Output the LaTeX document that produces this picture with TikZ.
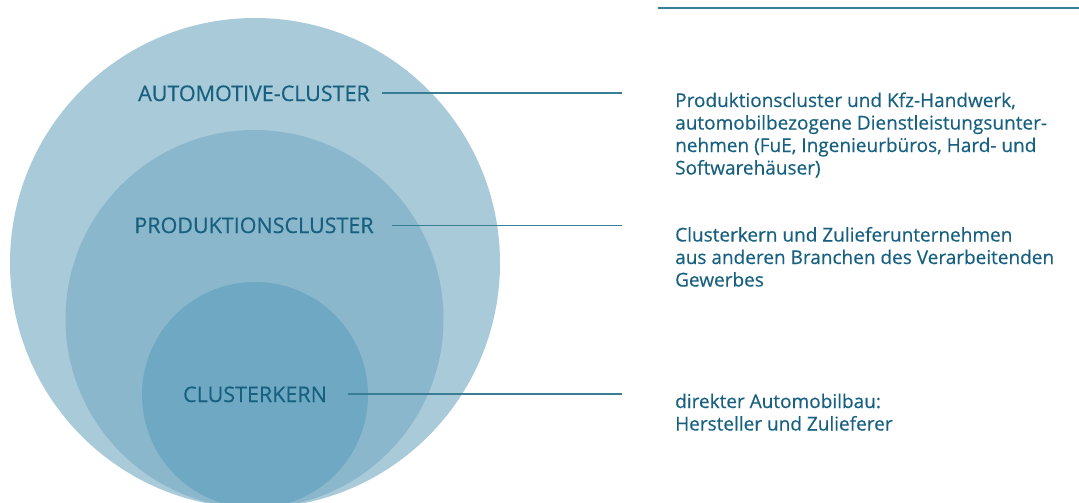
\documentclass[tikz,border=0pt]{standalone}
\usepackage{fontspec}
\setmainfont{Open Sans}
\newfontfamily\labfont[FakeBold=0.35]{Open Sans}
\definecolor{outerc}{HTML}{A8CAD9}
\definecolor{midc}{HTML}{8AB7CC}
\definecolor{innerc}{HTML}{6EA8C2}
\definecolor{txtc}{HTML}{17607F}
\definecolor{linec}{HTML}{3A7E96}
\tikzset{
  lbl/.style={font=\labfont\fontsize{21.5}{25}\selectfont, text=txtc, inner sep=0pt, anchor=base},
  desc/.style={font=\labfont\fontsize{19}{22.5}\selectfont, text=txtc, inner sep=0pt, anchor=base west},
  conn/.style={draw=linec, line width=1.2pt}
}
\newcommand{\desclines}[1]{\begin{tabular}[t]{@{}l@{}}#1\end{tabular}}
\begin{document}
\begin{tikzpicture}[x=1pt,y=-1pt]
\useasboundingbox (0,0) rectangle (1079,503);
\begin{scope}
\clip (0,0) rectangle (1079,503);
\fill[outerc] (255,263) circle (245);
\fill[midc] (254.5,319) circle (189);
\fill[innerc] (255,395) circle (113);
\end{scope}
\draw[linec, line width=2pt] (658,8) -- (1079,8);
\node[lbl] (a) at (254,101) {AUTOMOTIVE-CLUSTER};
\node[lbl] (p) at (254,233) {PRODUKTIONSCLUSTER};
\node[lbl] (k) at (255,402) {CLUSTERKERN};
\coordinate (ae) at (622,93);
\coordinate (pe) at (622,225.5);
\coordinate (ke) at (622,394);
\draw[conn] ([xshift=12pt]a.east |- ae) -- (ae);
\draw[conn] ([xshift=18pt]p.east |- pe) -- (pe);
\draw[conn] ([xshift=21pt]k.east |- ke) -- (ke);
\node[desc] (da) at (675,107) {\desclines{Produktionscluster und Kfz-Handwerk,\\automobilbezogene Dienstleistungsunter-\\nehmen (FuE, Ingenieurbüros, Hard- und\\Softwarehäuser)}};
\node[desc] (dp) at (675,241.5) {\desclines{Clusterkern und Zulieferunternehmen\\aus anderen Branchen des Verarbeitenden\\Gewerbes}};
\node[desc] (dk) at (675,408) {\desclines{direkter Automobilbau:\\Hersteller und Zulieferer}};
\end{tikzpicture}
\end{document}
